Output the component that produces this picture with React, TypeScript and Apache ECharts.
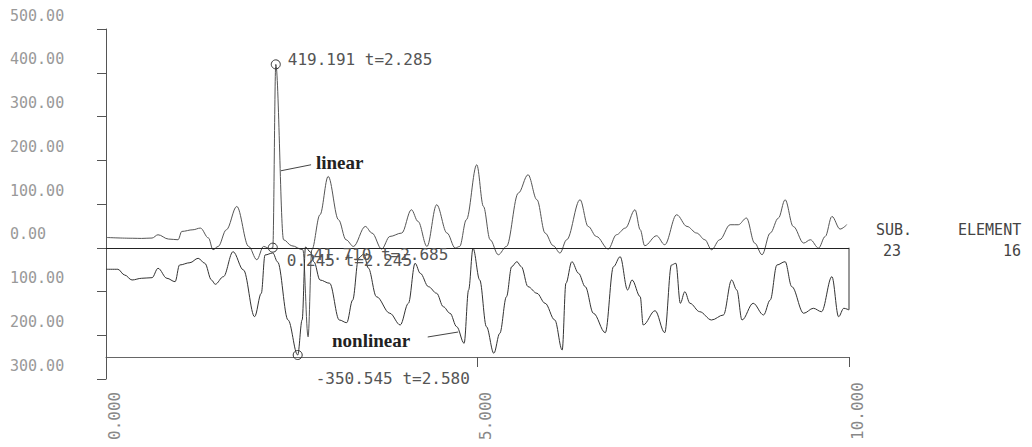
import React, { useEffect, useRef } from "react";
import * as echarts from "echarts";

// linear response (time, value)
const linearT = [0, 0.36, 0.48, 0.62, 0.70, 0.84, 0.97, 1.02, 1.17, 1.27, 1.38, 1.44, 1.51, 1.62, 1.76, 1.92, 2.03, 2.12, 2.21, 2.245, 2.285, 2.39, 2.50, 2.65, 2.72, 2.77, 2.88, 2.99, 3.13, 3.23, 3.33, 3.49, 3.58, 3.71, 3.82, 3.98, 4.11, 4.20, 4.32, 4.45, 4.59, 4.70, 4.76, 4.85, 4.99, 5.08, 5.17, 5.28, 5.39, 5.55, 5.68, 5.80, 5.91, 6.02, 6.11, 6.20, 6.38, 6.49, 6.60, 6.76, 6.87, 6.99, 7.12, 7.19, 7.25, 7.41, 7.52, 7.68, 7.82, 7.95, 8.06, 8.15, 8.26, 8.40, 8.51, 8.62, 8.73, 8.83, 8.94, 9.05, 9.14, 9.25, 9.39, 9.48, 9.59, 9.68, 9.77, 9.88, 9.97];
const linearV = [23.5, 21.7, 21.3, 22.2, 29.7, 19.9, 18.3, 37.3, 41.1, 45.0, 22.2, -4.6, 3.0, 41.1, 94.4, 3.0, -27.4, 3.0, -2.3, 0.245, 419.191, 18.3, 4.6, -4.6, -203.5, -4.6, 75.4, 163.0, 64.0, 18.3, 3.0, 48.7, 33.6, -3.0, 25.8, 33.6, 86.9, 60.1, 3.0, 98.3, 33.6, -0.7, 3.0, 64.0, 189.7, 94.4, 18.3, -16.0, 3.0, 125.0, 166.9, 109.7, 33.6, 4.6, -12.1, 18.3, 109.7, 48.7, 25.8, -3.0, 29.7, 45.0, 86.9, 41.1, 4.6, 27.4, 6.9, 75.4, 48.7, 33.6, 18.3, -4.6, 18.3, 52.6, 52.6, 67.9, 10.7, -16.0, 33.6, 67.9, 109.7, 48.7, 10.7, 18.3, -0.7, 25.8, 71.6, 42.7, 52.6];

// nonlinear response (time, value)
const nonlinearT = [0, 0.16, 0.25, 0.35, 0.48, 0.62, 0.70, 0.82, 0.93, 0.99, 1.13, 1.24, 1.33, 1.42, 1.47, 1.58, 1.71, 1.85, 2.0, 2.09, 2.14, 2.245, 2.31, 2.45, 2.58, 2.64, 2.685, 2.75, 2.80, 2.88, 3.01, 3.14, 3.24, 3.32, 3.40, 3.47, 3.53, 3.64, 3.82, 3.96, 4.07, 4.16, 4.23, 4.34, 4.45, 4.54, 4.63, 4.72, 4.82, 4.88, 4.94, 5.03, 5.12, 5.22, 5.30, 5.39, 5.46, 5.53, 5.59, 5.68, 5.80, 5.91, 6.04, 6.14, 6.19, 6.27, 6.36, 6.45, 6.56, 6.72, 6.83, 6.92, 7.02, 7.08, 7.19, 7.23, 7.39, 7.52, 7.61, 7.67, 7.73, 7.79, 7.86, 7.99, 8.15, 8.31, 8.42, 8.49, 8.56, 8.71, 8.85, 8.94, 9.03, 9.14, 9.23, 9.39, 9.52, 9.63, 9.77, 9.86, 9.93, 10.0];
const nonlinearV = [-39.2, -39.2, -59.9, -78.1, -71.9, -69.7, -35.6, -71.9, -84.3, -23.6, -15.3, 0.7, -17.4, -78.1, -93.7, -66.1, 24.7, -41.8, -211.4, -126.4, 12.7, 20, -12.7, -223.4, -350.545, -223, 41.71, 23.6, -12.7, -78.1, -90.1, -223.4, -233.2, -150.7, 1.8, 16.3, -34.5, -138.7, -199.0, -241.5, -162.7, -17.4, -53.8, -102.4, -126.4, -175.1, -199.0, -247.7, -308.0, -114.4, 37.0, -78.1, -247.7, -344.3, -271.7, -138.7, -29.8, -11.6, -29.8, -102.4, -126.4, -162.7, -223.4, -332.3, -90.1, -11.6, -53.8, -102.4, -199.0, -269.5, -29.8, 6.5, -114.4, -78.1, -138.7, -241.5, -189.6, -269.5, -23.6, -17.4, -162.7, -120.6, -162.7, -193.2, -223.4, -205.2, -78.1, -114.4, -223.4, -162.7, -205.2, -150.7, -23.6, -11.6, -102.4, -199.0, -180.9, -193.2, -66.1, -211.4, -180.9, -187.0];

// annotated extreme points
const linearPeak = { t: 2.285, v: 419.191, text: "419.191 t=2.285" };
const linearCross = { t: 2.245, v: 0.245, text: "0.245 t=2.245" };
const nonlinearMin = { t: 2.58, v: -350.545, text: "-350.545 t=2.580" };
const nonlinearMax = { t: 2.685, v: 41.71, text: "41.710 t=2.685" };

// callout leaders (data coords)
const linearLeader = [[2.355, 176], [2.76, 189.7]];
const nonlinearLeader = [[4.74, -267], [4.33, -285.1]];

// right frame edge at t = 10
const frameEdge = [[10, 0], [10, -141.7]];

// axis ranges
const yMin = -300, yMax = 500, yStep = 100;
const y2Min = -437.7, y2Max = 833.5;
const xMin = 0, xMax = 10, xStep = 5;

const MONO = "'DejaVu Sans Mono', 'Liberation Mono', monospace";
const SERIF = "'Liberation Serif', 'DejaVu Serif', serif";

export default function App() {
  const ref = useRef<HTMLDivElement>(null);
  useEffect(() => {
    if (!ref.current) return;
    document.body.style.margin = "0";
    const chart = echarts.init(ref.current, undefined, { renderer: "svg" });
    const mpLabel = (text: string, offset: number[]) => ({
      show: true,
      position: "right",
      formatter: text,
      offset,
      fontFamily: MONO,
      fontSize: 16,
      color: "#555",
    });
    const ring = { color: "rgba(0,0,0,0)", borderColor: "#333", borderWidth: 1 };
    chart.setOption({
      animation: false,
      backgroundColor: "#fff",
      grid: { left: 106, right: 183, top: 29, bottom: 68 },
      xAxis: {
        type: "value",
        min: xMin,
        max: xMax,
        interval: xStep,
        offset: -22,
        axisLine: { onZero: false, lineStyle: { color: "#666", width: 1 } },
        axisTick: { length: 10, lineStyle: { color: "#555" } },
        splitLine: { show: false },
        axisLabel: {
          rotate: 90,
          align: "left",
          verticalAlign: "top",
          margin: 83,
          formatter: (v: number) => v.toFixed(3),
          fontFamily: MONO,
          fontSize: 16,
          color: "#888",
        },
      },
      yAxis: [
        {
          type: "value",
          min: yMin,
          max: yMax,
          interval: yStep,
          axisLine: { show: true, lineStyle: { color: "#555", width: 1 } },
          axisTick: { show: true, length: 9, lineStyle: { color: "#555" } },
          splitLine: { show: false },
          axisLabel: {
            align: "left",
            verticalAlign: "bottom",
            margin: 96,
            padding: [0, 0, 6, 0],
            formatter: (v: number) => Math.abs(v).toFixed(2),
            fontFamily: MONO,
            fontSize: 15,
            color: "#999",
          },
        },
        { type: "value", min: y2Min, max: y2Max, show: false },
      ],
      series: [
        {
          name: "linear",
          type: "line",
          yAxisIndex: 0,
          data: linearT.map((t, i) => [t, linearV[i]]),
          symbol: "none",
          smooth: 0.35,
          smoothMonotone: "x",
          lineStyle: { color: "#555", width: 1 },
          markLine: {
            silent: true,
            symbol: ["none", "none"],
            label: { show: false },
            lineStyle: { color: "#444", width: 1, type: "solid" },
            data: [
              { yAxis: 0, lineStyle: { color: "#222", width: 1.2, type: "solid" } },
              [{ coord: linearLeader[0] }, { coord: linearLeader[1] }],
            ],
          },
          markPoint: {
            symbol: "circle",
            symbolSize: 9,
            itemStyle: ring,
            data: [
              { coord: [linearPeak.t, linearPeak.v], label: mpLabel(linearPeak.text, [2, -5]) },
              { coord: [linearCross.t, linearCross.v], label: mpLabel(linearCross.text, [4, 13]) },
            ],
          },
        },
        {
          name: "nonlinear",
          type: "line",
          yAxisIndex: 1,
          data: nonlinearT.map((t, i) => [t, nonlinearV[i]]),
          symbol: "none",
          smooth: 0.35,
          smoothMonotone: "x",
          lineStyle: { color: "#333", width: 1 },
          markLine: {
            silent: true,
            symbol: ["none", "none"],
            label: { show: false },
            lineStyle: { color: "#444", width: 1, type: "solid" },
            data: [[{ coord: nonlinearLeader[0] }, { coord: nonlinearLeader[1] }]],
          },
          markPoint: {
            symbol: "circle",
            symbolSize: 9,
            itemStyle: ring,
            data: [
              { coord: [nonlinearMin.t, nonlinearMin.v], label: mpLabel(nonlinearMin.text, [8, 23]) },
              { coord: [nonlinearMax.t, nonlinearMax.v], symbolSize: 0, label: mpLabel(nonlinearMax.text, [3, 7]) },
            ],
          },
        },
        {
          name: "frame",
          type: "line",
          yAxisIndex: 0,
          data: frameEdge,
          symbol: "none",
          lineStyle: { color: "#333", width: 1 },
        },
      ],
      graphic: [
        { type: "text", left: 316, top: 153, style: { text: "linear", fontFamily: SERIF, fontWeight: "bold", fontSize: 19, fill: "#222" } },
        { type: "text", left: 332, top: 331, style: { text: "nonlinear", fontFamily: SERIF, fontWeight: "bold", fontSize: 19, fill: "#222" } },
        { type: "text", left: 876, top: 222, style: { text: "SUB.", fontFamily: MONO, fontSize: 15, fill: "#444" } },
        { type: "text", left: 958, top: 222, style: { text: "ELEMENT", fontFamily: MONO, fontSize: 15, fill: "#444" } },
        { type: "text", left: 883, top: 243, style: { text: "23", fontFamily: MONO, fontSize: 15, fill: "#444" } },
        { type: "text", left: 1003, top: 243, style: { text: "16", fontFamily: MONO, fontSize: 15, fill: "#444" } },
      ],
    });
    return () => chart.dispose();
  }, []);
  return <div ref={ref} style={{ width: 1032, height: 447 }} />;
}
